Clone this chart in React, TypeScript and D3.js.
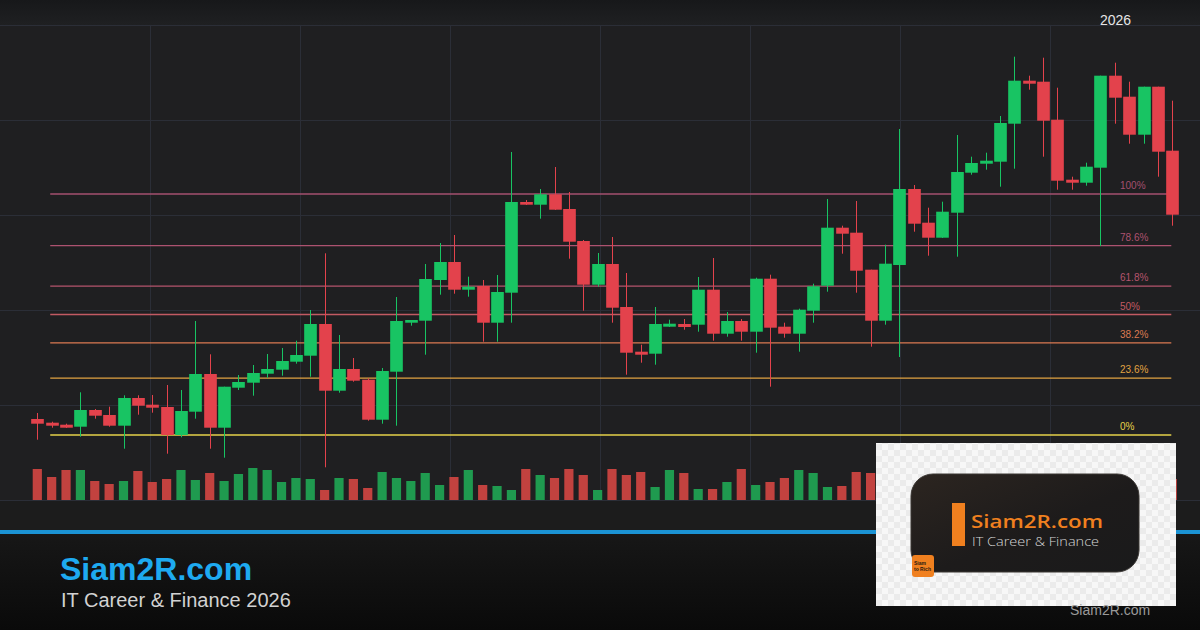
import React, { useRef, useEffect } from "react";
import * as d3 from "d3";

// OHLC per session (price units)
const opens = [25.70, 25.33, 25.13, 24.93, 26.60, 26.10, 25.03, 27.80, 27.13, 26.90, 24.10, 26.43, 30.20, 24.83, 28.83, 29.33, 30.23, 30.63, 31.43, 32.03,
  35.20, 28.53, 30.70, 29.63, 25.63, 30.43, 35.33, 35.53, 39.60, 41.40, 38.63, 39.00, 35.33, 38.33, 47.40, 47.13, 48.17, 46.70, 43.50, 39.13,
  41.20, 36.90, 32.43, 32.23, 34.93, 35.20, 35.13, 38.63, 34.23, 35.50, 34.43, 39.73, 34.93, 34.23, 36.53, 39.03, 44.83, 44.33, 40.63, 35.53,
  41.10, 48.70, 45.33, 43.83, 46.33, 50.33, 51.23, 51.43, 55.23, 59.53, 59.43, 55.63, 49.63, 49.33, 50.83, 60.03, 57.93, 54.13, 58.93, 52.53];
const highs = [26.30, 25.43, 25.23, 28.37, 26.70, 26.93, 28.07, 28.07, 28.10, 29.10, 28.60, 35.50, 32.17, 28.93, 30.10, 31.10, 32.20, 32.80, 33.53, 36.60,
  42.27, 34.10, 31.80, 29.77, 30.80, 37.90, 35.60, 41.20, 43.30, 44.10, 39.93, 39.60, 40.10, 52.40, 47.60, 48.70, 50.90, 48.40, 43.60, 42.30,
  43.90, 40.30, 33.13, 36.90, 35.63, 35.70, 39.90, 41.80, 36.40, 35.70, 39.83, 40.13, 35.33, 36.73, 39.23, 47.70, 45.03, 47.50, 40.63, 43.13,
  54.70, 49.10, 46.83, 47.43, 54.10, 51.93, 52.33, 56.00, 61.93, 60.03, 61.83, 58.83, 49.93, 51.33, 60.03, 61.33, 59.43, 58.93, 58.93, 57.53];
const lows = [23.63, 24.83, 24.80, 23.93, 25.73, 24.93, 22.73, 26.13, 26.33, 22.23, 23.87, 25.73, 22.73, 21.83, 28.60, 28.03, 29.83, 30.03, 31.23, 29.93,
  20.87, 28.33, 29.43, 25.53, 25.23, 25.03, 35.03, 32.13, 38.13, 38.23, 37.93, 33.43, 33.43, 35.33, 47.10, 45.73, 46.60, 41.73, 36.53, 38.93,
  35.33, 30.13, 31.33, 31.13, 34.90, 34.63, 34.43, 33.53, 33.93, 33.53, 32.33, 28.93, 33.83, 32.43, 35.33, 38.43, 42.23, 38.33, 32.93, 35.13,
  31.90, 44.43, 42.03, 43.80, 41.93, 50.13, 50.63, 48.93, 50.73, 58.63, 51.93, 48.63, 48.63, 49.03, 43.00, 55.23, 53.23, 53.23, 49.93, 45.03];
const closes = [25.23, 25.03, 24.83, 26.60, 26.03, 25.03, 27.80, 27.03, 26.83, 24.10, 26.50, 30.20, 24.83, 28.93, 29.40, 30.30, 30.70, 31.50, 32.10, 35.20,
  28.53, 30.70, 29.53, 25.63, 30.50, 35.50, 35.60, 39.70, 41.40, 38.63, 38.93, 35.33, 38.40, 47.40, 47.13, 48.17, 46.63, 43.43, 39.13, 41.20,
  36.83, 32.33, 32.13, 35.20, 35.23, 34.90, 38.63, 34.23, 35.50, 34.43, 39.73, 34.83, 34.23, 36.63, 38.97, 44.83, 44.23, 40.53, 35.53, 41.23,
  48.70, 45.23, 43.83, 46.43, 50.40, 51.30, 51.53, 55.30, 59.53, 59.23, 55.53, 49.53, 49.33, 50.93, 60.03, 57.83, 54.13, 58.93, 52.43, 46.13];
const volumes = [31, 23, 30, 30, 19, 16, 19, 29, 18, 21, 30, 20, 27, 19, 26, 32, 30, 18, 22, 21,
  10, 22, 21, 12, 28, 22, 19, 27, 15, 23, 30, 15, 14, 10, 31, 25, 22, 31, 25, 10,
  31, 25, 28, 13, 30, 27, 11, 11, 18, 31, 15, 18, 22, 30, 27, 13, 14, 28, 27, 24,
  29, 20, 17, 26, 31, 22, 18, 25, 33, 15, 27, 30, 19, 16, 34, 28, 21, 24, 23, 21];

// Fibonacci retracement
const fibLow = 24.1;
const fibHigh = 48.2;
const fibRatios = [1, 0.786, 0.618, 0.5, 0.382, 0.236, 0];
const fibLabels = ["100%", "78.6%", "61.8%", "50%", "38.2%", "23.6%", "0%"];
const fibColors = ["#a4506f", "#ad5270", "#b5546d", "#c25a63", "#dc7a52", "#e2a342", "#e6d24a"];

const W = 1200;
const H = 630;
const UP = "#18c463";
const DOWN = "#e3424c";
const UP_VOL = "#1f9a4f";
const DOWN_VOL = "#c2423f";

const App = () => {
  const svgRef = useRef<SVGSVGElement>(null);

  useEffect(() => {
    const svg = d3.select(svgRef.current);
    svg.selectAll("*").remove();

    const idx = d3.range(opens.length);
    const x = d3.scalePoint<number>().domain(idx).range([37.3, 1172.3]);
    const step = x.step();
    const bodyW = step * 0.88;
    const volW = step * 0.64;
    const y = d3.scaleLinear().domain([17.6, 67.6]).range([500, 0]);
    const yVol = d3.scaleLinear().domain([0, 40]).range([500, 460]);

    const defs = svg.append("defs");
    const topGrad = defs.append("linearGradient").attr("id", "topGrad").attr("x1", 0).attr("x2", 0).attr("y1", 0).attr("y2", 1);
    topGrad.append("stop").attr("offset", "0%").attr("stop-color", "#17181a");
    topGrad.append("stop").attr("offset", "100%").attr("stop-color", "#1f2022");
    const botGrad = defs.append("linearGradient").attr("id", "botGrad").attr("x1", 0).attr("x2", 0).attr("y1", 0).attr("y2", 1);
    botGrad.append("stop").attr("offset", "0%").attr("stop-color", "#171717");
    botGrad.append("stop").attr("offset", "100%").attr("stop-color", "#0a0a0a");
    const logoGrad = defs.append("linearGradient").attr("id", "logoGrad").attr("x1", 0).attr("x2", 1).attr("y1", 0).attr("y2", 1);
    logoGrad.append("stop").attr("offset", "0%").attr("stop-color", "#2c2520");
    logoGrad.append("stop").attr("offset", "55%").attr("stop-color", "#1d1b1b");
    logoGrad.append("stop").attr("offset", "100%").attr("stop-color", "#1a1a1b");
    const checker = defs.append("pattern").attr("id", "checker").attr("width", 12).attr("height", 12).attr("patternUnits", "userSpaceOnUse");
    checker.append("rect").attr("width", 12).attr("height", 12).attr("fill", "#f7f7f7");
    checker.append("rect").attr("width", 6).attr("height", 6).attr("fill", "#ebebeb");
    checker.append("rect").attr("x", 6).attr("y", 6).attr("width", 6).attr("height", 6).attr("fill", "#ebebeb");

    // backgrounds
    svg.append("rect").attr("width", W).attr("height", H).attr("fill", "#1f1f21");
    svg.append("rect").attr("width", W).attr("height", 25).attr("fill", "url(#topGrad)");
    svg.append("rect").attr("y", 500).attr("width", W).attr("height", 30).attr("fill", "#1c1c1c");
    svg.append("rect").attr("y", 534).attr("width", W).attr("height", 96).attr("fill", "url(#botGrad)");

    // grid
    const grid = svg.append("g").attr("stroke", "#2b2e37").attr("stroke-width", 1);
    [25, 120, 215, 310, 405, 500].forEach((gy) => {
      grid.append("line").attr("x1", 0).attr("x2", W).attr("y1", gy + 0.5).attr("y2", gy + 0.5);
    });
    d3.range(150, 1051, 150).forEach((gx) => {
      grid.append("line").attr("x1", gx + 0.5).attr("x2", gx + 0.5).attr("y1", 25).attr("y2", 500);
    });

    // fib levels
    const fibX0 = x(0)! + step * 0.9;
    const fibX1 = x(idx.length - 1)! - 1;
    const fib = svg.append("g");
    fibRatios.forEach((r, i) => {
      const fy = y(fibLow + r * (fibHigh - fibLow));
      fib.append("line").attr("x1", fibX0).attr("x2", fibX1).attr("y1", fy).attr("y2", fy)
        .attr("stroke", fibColors[i]).attr("stroke-width", 1.3);
      fib.append("text").attr("x", 1120).attr("y", fy - 5).attr("fill", fibColors[i])
        .attr("font-family", "Liberation Sans, Arial, sans-serif").attr("font-size", 10).text(fibLabels[i]);
    });

    // volume
    svg.append("g").selectAll("rect").data(idx).enter().append("rect")
      .attr("x", (i) => x(i)! - volW / 2)
      .attr("y", (i) => yVol(volumes[i]))
      .attr("width", volW)
      .attr("height", (i) => 500 - yVol(volumes[i]))
      .attr("fill", (i) => (closes[i] >= opens[i] ? UP_VOL : DOWN_VOL));

    // candles
    const candles = svg.append("g").selectAll("g").data(idx).enter().append("g");
    candles.append("line")
      .attr("x1", (i) => Math.round(x(i)!) + 0.5)
      .attr("x2", (i) => Math.round(x(i)!) + 0.5)
      .attr("y1", (i) => y(highs[i]))
      .attr("y2", (i) => y(lows[i]))
      .attr("stroke", (i) => (closes[i] >= opens[i] ? UP : DOWN))
      .attr("stroke-width", 1);
    candles.append("rect")
      .attr("x", (i) => Math.round(x(i)!) + 0.5 - bodyW / 2)
      .attr("y", (i) => y(Math.max(opens[i], closes[i])))
      .attr("width", bodyW)
      .attr("height", (i) => Math.max(2.5, Math.abs(y(opens[i]) - y(closes[i]))))
      .attr("fill", (i) => (closes[i] >= opens[i] ? UP : DOWN));

    // year label
    svg.append("text").attr("x", 1100).attr("y", 25).attr("fill", "#e6e6e6")
      .attr("font-family", "Liberation Sans, Arial, sans-serif").attr("font-size", 14).text("2026");

    // footer
    svg.append("rect").attr("y", 530).attr("width", W).attr("height", 4).attr("fill", "#1b93d4");
    svg.append("text").attr("x", 60).attr("y", 580).attr("fill", "#1eaaf0")
      .attr("font-family", "Liberation Sans, Arial, sans-serif").attr("font-weight", "bold").attr("font-size", 32)
      .text("Siam2R.com");
    svg.append("text").attr("x", 61).attr("y", 607).attr("fill", "#d2d2d2")
      .attr("font-family", "Liberation Sans, Arial, sans-serif").attr("font-size", 20)
      .text("IT Career & Finance 2026");

    // logo card
    const logo = svg.append("g");
    logo.append("rect").attr("x", 876).attr("y", 443).attr("width", 300).attr("height", 163).attr("fill", "url(#checker)");
    logo.append("rect").attr("x", 911).attr("y", 474).attr("width", 228).attr("height", 98).attr("rx", 22)
      .attr("fill", "url(#logoGrad)").attr("stroke", "#3a3633").attr("stroke-width", 1);
    logo.append("rect").attr("x", 952).attr("y", 503).attr("width", 13).attr("height", 43).attr("fill", "#f0801f");
    logo.append("text").attr("x", 971).attr("y", 528).attr("fill", "#f0801f")
      .attr("font-family", "Open Sans, Liberation Sans, sans-serif").attr("font-weight", 600).attr("font-size", 18.5)
      .attr("textLength", 132).attr("lengthAdjust", "spacingAndGlyphs").text("Siam2R.com");
    logo.append("text").attr("x", 972).attr("y", 546).attr("fill", "#d6d6d6")
      .attr("font-family", "Open Sans, Liberation Sans, sans-serif").attr("font-weight", 300).attr("font-size", 12)
      .attr("textLength", 127).attr("lengthAdjust", "spacingAndGlyphs").text("IT Career & Finance");
    logo.append("rect").attr("x", 912).attr("y", 555).attr("width", 22).attr("height", 22).attr("rx", 3).attr("fill", "#f0801f");
    logo.append("text").attr("x", 914).attr("y", 565).attr("fill", "#2a1a10")
      .attr("font-family", "Liberation Sans, Arial, sans-serif").attr("font-size", 5).attr("font-weight", "bold").text("Siam");
    logo.append("text").attr("x", 914).attr("y", 571).attr("fill", "#2a1a10")
      .attr("font-family", "Liberation Sans, Arial, sans-serif").attr("font-size", 5).attr("font-weight", "bold").text("to Rich");
    svg.append("text").attr("x", 1070).attr("y", 615).attr("fill", "#9a9a9a")
      .attr("font-family", "Liberation Sans, Arial, sans-serif").attr("font-size", 14).text("Siam2R.com");
  }, []);

  return (
    <svg
      ref={svgRef}
      width={W}
      height={H}
      style={{ position: "absolute", left: 0, top: 0, display: "block" }}
    ></svg>
  );
};

export default App;
